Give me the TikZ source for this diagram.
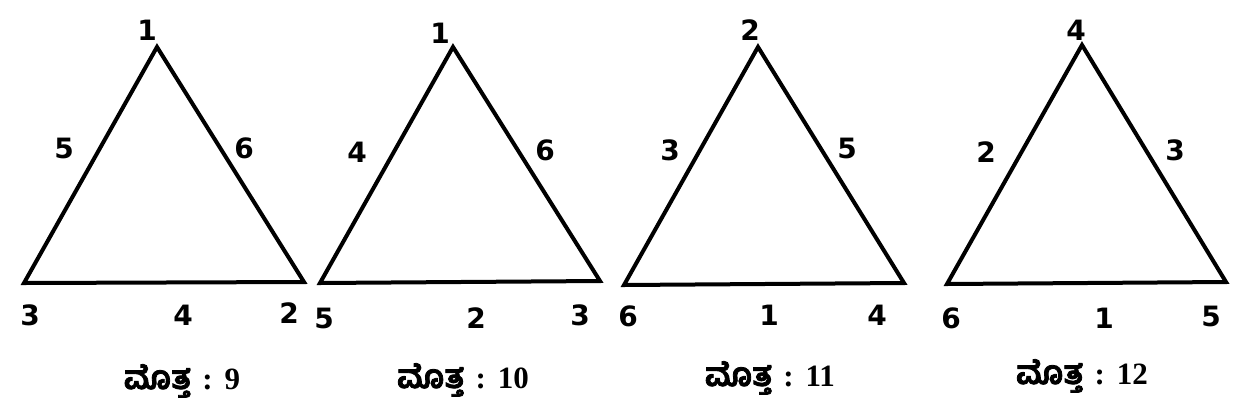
\documentclass[tikz,border=0pt]{standalone}
\usepackage{fontspec}
\setmainfont{DejaVu Sans}
\newfontfamily\kannada[Script=Kannada,FakeBold=2.5,Scale=1.05]{Hind Mysuru}
\newfontfamily\capserif{Liberation Serif}

\newcommand{\sumtext}[1]{\smash{\kannada ಮೊತ್ತ}\hspace{11pt}{\capserif :}\hspace{12pt}{\capserif #1}}

\tikzset{
  num/.style={font=\fontsize{28}{28}\selectfont\bfseries,inner sep=0pt},
  total/.style={font=\fontsize{31}{31}\selectfont\bfseries,inner sep=0pt,anchor=base},
  side/.style={line width=4pt,line join=miter}
}

\begin{document}
\begin{tikzpicture}[x=1pt,y=-1pt]
  \useasboundingbox (0,0) rectangle (1244,408);
  % triangle 1
  \coordinate (a1) at (157,47);
  \coordinate (b1) at (24,283);
  \coordinate (c1) at (304,282);
  \draw[side] (a1) -- (b1) -- (c1) -- cycle;
  \node[num] (t1) at (147,30) {1};
  \node[num] (l1) at (64,148) {5};
  \node[num] (r1) at (244,148) {6};
  \node[num] (p1) at (30,315) {3};
  \node[num] (m1) at (183,315) {4};
  \node[num] (q1) at (289,313) {2};
  \node[total] (s1) at (182,389) {\sumtext{9}};
  % triangle 2
  \coordinate (a2) at (453,47);
  \coordinate (b2) at (320,283);
  \coordinate (c2) at (600,281);
  \draw[side] (a2) -- (b2) -- (c2) -- cycle;
  \node[num] (t2) at (440,33) {1};
  \node[num] (l2) at (357,152) {4};
  \node[num] (r2) at (545,150) {6};
  \node[num] (p2) at (324,318) {5};
  \node[num] (m2) at (476,318) {2};
  \node[num] (q2) at (580,315) {3};
  \node[total] (s2) at (463,388) {\sumtext{10}};
  % triangle 3
  \coordinate (a3) at (758,47);
  \coordinate (b3) at (624,285);
  \coordinate (c3) at (904,283);
  \draw[side] (a3) -- (b3) -- (c3) -- cycle;
  \node[num] (t3) at (750,30) {2};
  \node[num] (l3) at (670,150) {3};
  \node[num] (r3) at (847,148) {5};
  \node[num] (p3) at (628,316) {6};
  \node[num] (m3) at (769,315) {1};
  \node[num] (q3) at (877,315) {4};
  \node[total] (s3) at (770,386) {\sumtext{11}};
  % triangle 4
  \coordinate (a4) at (1082,45);
  \coordinate (b4) at (947,284);
  \coordinate (c4) at (1226,282);
  \draw[side] (a4) -- (b4) -- (c4) -- cycle;
  \node[num] (t4) at (1076,30) {4};
  \node[num] (l4) at (986,152) {2};
  \node[num] (r4) at (1175,150) {3};
  \node[num] (p4) at (951,318) {6};
  \node[num] (m4) at (1104,318) {1};
  \node[num] (q4) at (1211,316) {5};
  \node[total] (s4) at (1082,384) {\sumtext{12}};
\end{tikzpicture}
\end{document}
